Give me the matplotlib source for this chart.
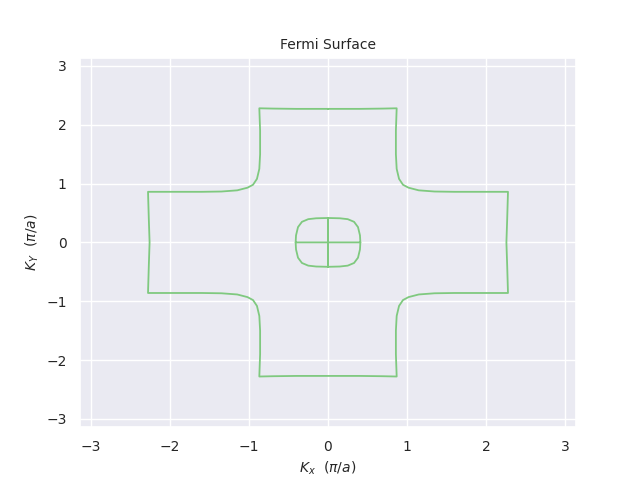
import numpy as np
import matplotlib
matplotlib.use("Agg")
import matplotlib.pyplot as plt
import seaborn as sns

sns.set_theme(style="darkgrid", rc={"font.size": 10, "axes.labelsize": 10,
                                    "xtick.labelsize": 10, "ytick.labelsize": 10,
                                    "axes.titlesize": 10})

# first-quadrant trace of the outer Fermi contour (pi/a units)
outer_x = [0.0, 0.4, 0.7, 0.87, 0.86, 0.86, 0.87, 0.90, 0.95, 1.02, 1.15, 1.35, 1.6, 2.0, 2.28, 2.27, 2.26]
outer_y = [2.27, 2.27, 2.275, 2.28, 1.9, 1.5, 1.25, 1.08, 0.98, 0.93, 0.885, 0.865, 0.86, 0.86, 0.86, 0.4, 0.0]
# first-quadrant trace of the inner pocket
inner_x = [0.41, 0.405, 0.38, 0.33, 0.25, 0.15, 0.0]
inner_y = [0.0, 0.12, 0.26, 0.35, 0.395, 0.41, 0.415]


def full_loop(qx, qy):
    qx = np.array(qx); qy = np.array(qy)
    x = np.concatenate([qx, qx[::-1], -qx, -qx[::-1]])
    y = np.concatenate([qy, -qy[::-1], -qy, qy[::-1]])
    return x, y


fig, ax = plt.subplots(figsize=(6.4, 4.8))
for qx, qy in [(outer_x, outer_y), (inner_x, inner_y)]:
    x, y = full_loop(qx, qy)
    ax.plot(x, y, color="#7fc97f", lw=1.3)

ax.set_xlim(-np.pi, np.pi)
ax.set_ylim(-np.pi, np.pi)
ax.set_title("Fermi Surface")
ax.set_xlabel(r"$K_x$  ($\pi/a$)")
ax.set_ylabel(r"$K_Y$  ($\pi/a$)")
plt.savefig("out.png", dpi=100)
